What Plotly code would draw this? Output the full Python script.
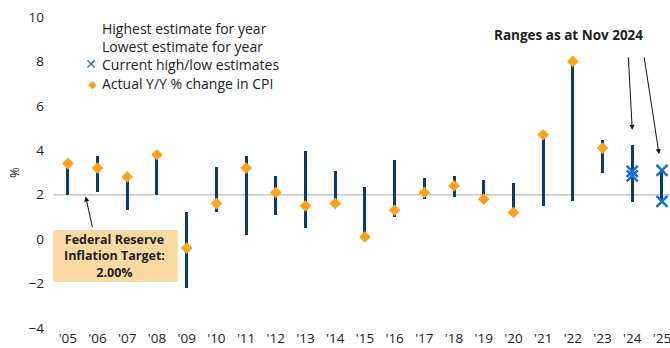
import plotly.graph_objects as go

# Fed inflation forecast ranges vs. realised CPI, 2005-2025
years = ["'05", "'06", "'07", "'08", "'09", "'10", "'11", "'12", "'13", "'14",
         "'15", "'16", "'17", "'18", "'19", "'20", "'21", "'22", "'23", "'24", "'25"]
lowest = [2.0, 2.1, 1.3, 2.0, -2.2, 1.2, 0.2, 1.1, 0.5, 1.6,
          0.1, 1.0, 1.8, 1.9, 1.8, 1.2, 1.5, 1.7, 3.0, 1.65, 1.7]
highest = [3.3, 3.75, 2.8, 3.8, 1.2, 3.25, 3.75, 2.85, 3.95, 3.05,
           2.35, 3.55, 2.75, 2.85, 2.65, 2.55, 4.65, 8.0, 4.45, 4.25, 3.1]
actual = [3.4, 3.2, 2.8, 3.8, -0.4, 1.6, 3.2, 2.1, 1.5, 1.6,
          0.1, 1.3, 2.1, 2.4, 1.8, 1.2, 4.7, 8.0, 4.1, None, None]
current_years = ["'24", "'24", "'25", "'25"]
current_vals = [3.05, 2.85, 3.1, 1.7]
fed_target = 2.0

legend_names = ["Highest estimate for year", "Lowest estimate for year",
                "Current high/low estimates", "Actual Y/Y % change in CPI"]
target_lines = ["Federal Reserve", "Inflation Target:", "%.2f%%" % fed_target]

NAVY = "#0B3A73"
ORANGE = "#FFA31A"
BLUE = "#1170D4"
TXT = "#222222"
FONT = "Open Sans"

fig = go.Figure()

# estimate range bars (low -> high)
fig.add_trace(go.Bar(
    x=years, base=lowest, y=[h - l for h, l in zip(highest, lowest)],
    width=0.1, marker=dict(color=NAVY, line=dict(width=0)),
    name="Estimate range", hoverinfo="skip",
))

fig.add_trace(go.Scatter(
    x=current_years, y=current_vals, mode="markers", name=legend_names[2],
    marker=dict(symbol="x-thin", size=11, line=dict(color=BLUE, width=2.5), color=BLUE),
))

fig.add_trace(go.Scatter(
    x=years, y=actual, mode="markers", name=legend_names[3],
    marker=dict(symbol="diamond", size=9, color=ORANGE, line=dict(width=0)),
))

# Fed target line
fig.add_shape(type="line", xref="paper", x0=0, x1=1, yref="y", y0=fed_target, y1=fed_target,
              line=dict(color="#C8C8C8", width=1.5), layer="below")

# key, laid out as text rows with coloured glyphs
fig.add_annotation(
    xref="paper", yref="paper", x=0.0762, y=0.876, xanchor="left", yanchor="middle",
    text="<br>".join(legend_names), align="left", showarrow=False,
    font=dict(family=FONT, size=14, color=TXT),
)
fig.add_annotation(
    xref="paper", yref="paper", x=0.0745, y=0.876, xanchor="right", yanchor="middle",
    text=" <br> <br><span style='color:%s'><b>✕</b></span><br>"
         "<span style='color:%s;font-size:11px'>◆</span>" % (BLUE, ORANGE),
    align="right", showarrow=False,
    font=dict(family="DejaVu Sans", size=14, color=TXT),
)

# target call-out box
fig.add_shape(type="rect", xref="x", yref="y", x0=-0.54, x1=3.70, y0=-1.93, y1=0.41,
              fillcolor="#FCD9A0", line=dict(width=0), layer="above")
fig.add_annotation(x=1.58, y=-0.76, xref="x", yref="y",
                   text="<br>".join("<b>%s</b>" % t for t in target_lines),
                   showarrow=False, align="center",
                   font=dict(family=FONT, size=12.5, color=TXT))
fig.add_annotation(
    x=0.6, y=1.92, xref="x", yref="y", text="", showarrow=True,
    ax=7, ay=32, arrowhead=2, arrowsize=1, arrowwidth=1, arrowcolor="#111111",
)

fig.add_annotation(
    x=16.84, y=9.2, xref="x", yref="y", text="<b>Ranges as at Nov 2024</b>",
    showarrow=False, font=dict(family=FONT, size=13.5, color=TXT),
)
fig.add_annotation(x=19.0, y=4.92, xref="x", yref="y", text="", showarrow=True,
                   ax=-4, ay=-74, arrowhead=2, arrowsize=1, arrowwidth=1, arrowcolor="#111111")
fig.add_annotation(x=19.9, y=3.83, xref="x", yref="y", text="", showarrow=True,
                   ax=-15, ay=-98, arrowhead=2, arrowsize=1, arrowwidth=1, arrowcolor="#111111")

fig.update_layout(
    width=670, height=348,
    margin=dict(l=53, r=0, t=17, b=20),
    plot_bgcolor="white", paper_bgcolor="white",
    font=dict(family=FONT, size=13, color=TXT),
    showlegend=False,
    xaxis=dict(type="category", categoryorder="array", categoryarray=years,
               range=[-0.5, 20.27], showgrid=False, showline=False, zeroline=False,
               ticks="", tickfont=dict(size=13.5)),
    yaxis=dict(range=[-4, 10], dtick=2, showgrid=False, showline=False, zeroline=False,
               ticks="", ticklabelstandoff=8, tickfont=dict(size=13.5),
               title=dict(text="%", standoff=5, font=dict(size=13))),
    bargap=0,
)

fig.write_html("out.html")
